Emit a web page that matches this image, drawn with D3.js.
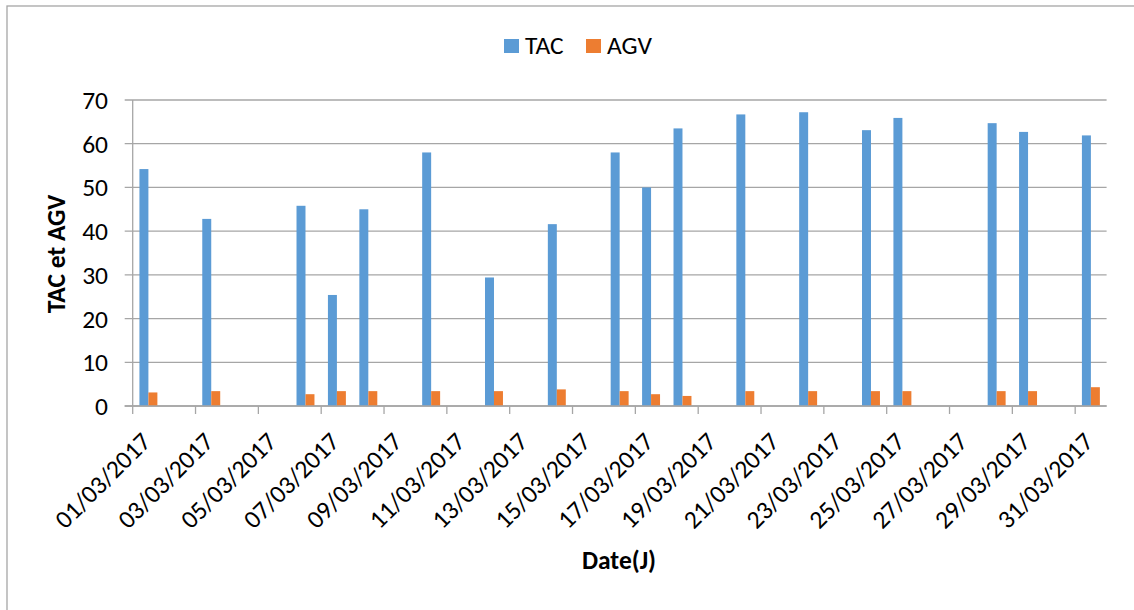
<!DOCTYPE html>
<html>
<head>
<meta charset="utf-8">
<script src="https://cdn.jsdelivr.net/npm/d3@7/dist/d3.min.js"></script>
<style>
  html, body { margin: 0; padding: 0; background: #ffffff; }
  svg { display: block; }
  text { font-family: Carlito, Calibri, "Open Sans", sans-serif; fill: #000; }
</style>
</head>
<body>
<svg id="chart" width="1134" height="610"></svg>
<script>
// Daily measurements, March 2017 (day of month)
const days = [1, 3, 6, 7, 8, 10, 12, 14, 16, 17, 18, 20, 22, 24, 25, 28, 29, 31];
const tac  = [54.2, 42.8, 45.8, 25.4, 45.0, 58.0, 29.4, 41.6, 58.0, 50.0, 63.5, 66.7, 67.2, 63.1, 65.9, 64.7, 62.7, 61.9];
const agv  = [3.1, 3.4, 2.7, 3.4, 3.4, 3.4, 3.4, 3.8, 3.4, 2.7, 2.3, 3.4, 3.4, 3.4, 3.4, 3.4, 3.4, 4.3];
const seriesNames = ["TAC", "AGV"];
const seriesColors = ["#5b9bd5", "#ed7d31"];
const yTicks = [0, 10, 20, 30, 40, 50, 60, 70];
const allDays = d3.range(1, 32);
const dateLabel = d => String(d).padStart(2, "0") + "/03/2017";

const svg = d3.select("#chart");
const W = 1134, H = 610;
const plot = { left: 132.7, right: 1106.6, top: 100, bottom: 406 };
const fontSize = 25.5;

// Outer chart frame
svg.append("rect")
  .attr("x", 7).attr("y", 6).attr("width", W + 10).attr("height", H + 10)
  .attr("fill", "#fff").attr("stroke", "#a6a6a6").attr("stroke-width", 1.3);

const x = d3.scaleBand().domain(allDays).range([plot.left, plot.right]).paddingInner(0).paddingOuter(0);
const y = d3.scaleLinear().domain([0, 70]).range([plot.bottom, plot.top]);
const barW = x.bandwidth() / 3.5;

// Horizontal gridlines (extend left past the axis as tick marks)
svg.append("g").selectAll("line").data(yTicks).join("line")
  .attr("x1", plot.left - 8).attr("x2", plot.right)
  .attr("y1", d => y(d)).attr("y2", d => y(d))
  .attr("stroke", "#a6a6a6").attr("stroke-width", 1.3);

// Y axis line
svg.append("line")
  .attr("x1", plot.left).attr("x2", plot.left)
  .attr("y1", y(70)).attr("y2", y(0))
  .attr("stroke", "#a6a6a6").attr("stroke-width", 1.3);

// Y tick labels
svg.append("g").selectAll("text").data(yTicks).join("text")
  .attr("x", 108).attr("y", d => y(d) + 9)
  .attr("text-anchor", "end").attr("font-size", fontSize)
  .text(d => d);

// Bars
const rows = days.map((d, i) => ({ day: d, vals: [tac[i], agv[i]] }));
seriesNames.forEach((name, s) => {
  svg.append("g").selectAll("rect").data(rows).join("rect")
    .attr("x", r => x(r.day) + x.bandwidth() / 2 - barW + s * barW)
    .attr("width", barW)
    .attr("y", r => y(r.vals[s]))
    .attr("height", r => y(0) - y(r.vals[s]))
    .attr("fill", seriesColors[s]);
});

// X axis line and ticks every two days
svg.append("line")
  .attr("x1", plot.left - 8).attr("x2", plot.right)
  .attr("y1", y(0)).attr("y2", y(0))
  .attr("stroke", "#a6a6a6").attr("stroke-width", 1.3);
const labelDays = allDays.filter(d => d % 2 === 1);
svg.append("g").selectAll("line").data(labelDays).join("line")
  .attr("x1", d => x(d)).attr("x2", d => x(d))
  .attr("y1", y(0)).attr("y2", y(0) + 8)
  .attr("stroke", "#a6a6a6").attr("stroke-width", 1.3);

// Rotated date labels
svg.append("g").selectAll("text").data(labelDays).join("text")
  .attr("text-anchor", "end").attr("font-size", fontSize)
  .attr("transform", d => `translate(${x(d) + x.bandwidth() / 2 + 4},${y(0) + 37}) rotate(-45)`)
  .text(dateLabel);

// Axis titles
svg.append("text")
  .attr("transform", "translate(65,254) rotate(-90)")
  .attr("text-anchor", "middle").attr("font-size", fontSize).attr("font-weight", "bold")
  .text("TAC et AGV");
svg.append("text")
  .attr("x", 619).attr("y", 569)
  .attr("text-anchor", "middle").attr("font-size", fontSize).attr("font-weight", "bold")
  .text("Date(J)");

// Legend
const legendX = [504, 586];
seriesNames.forEach((name, s) => {
  svg.append("rect").attr("x", legendX[s]).attr("y", 39).attr("width", 15).attr("height", 14)
    .attr("fill", seriesColors[s]);
  svg.append("text").attr("x", legendX[s] + 21).attr("y", 53.5).attr("font-size", fontSize).text(name);
});
</script>
</body>
</html>
